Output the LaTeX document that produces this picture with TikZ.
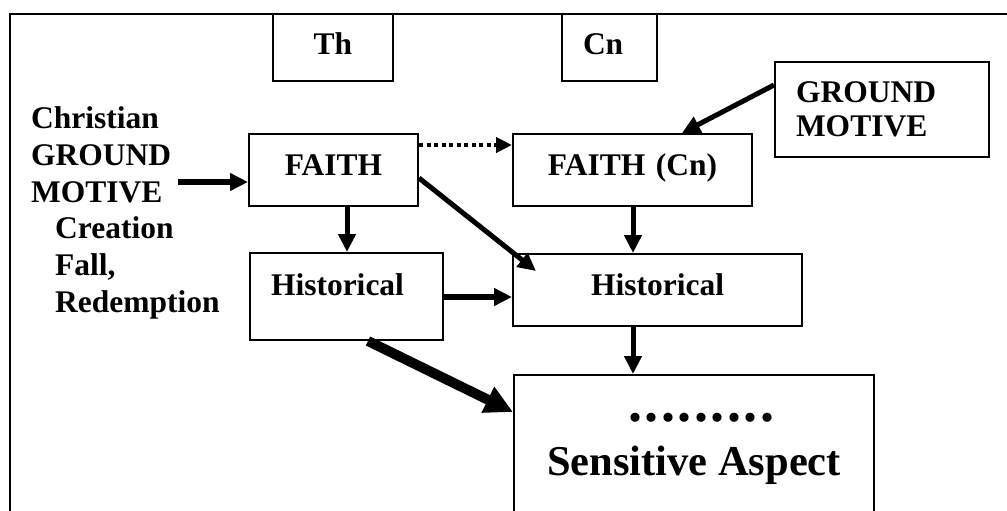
\documentclass[tikz,border=0pt]{standalone}
\usepackage{fontspec}
\setmainfont{Liberation Serif}
\usetikzlibrary{arrows.meta}
\tikzset{
  box/.style={draw, line width=2pt, inner sep=0pt, font=\bfseries\fontsize{31.5}{36}\selectfont},
  arr/.style={line width=5pt, -{Triangle[length=18pt,width=17pt]}},
  thickarr/.style={line width=10pt, -{Triangle[length=28pt,width=27pt]}},
  dotarr/.style={line width=4pt, dash pattern=on 4pt off 3.5pt, -{Triangle[length=16pt,width=15pt]}},
  txt/.style={font=\bfseries\fontsize{31.5}{36.8}\selectfont, inner sep=0pt},
}
\begin{document}
\begin{tikzpicture}[x=1pt,y=-1pt]
\useasboundingbox (0,0) rectangle (1007,511);
\clip (0,0) rectangle (1007,511);
% outer frame (cut off at right and bottom)
\draw[line width=2pt] (10,530) -- (10,14) -- (1030,14);

% boxes (anchor=base at baseline; text height/depth give top/bottom)
\node[box, anchor=base, text width=120pt, align=center, text height=41pt, text depth=26pt] (th) at (333,55) {Th};
\node[box, anchor=base west, inner xsep=21pt, text width=53pt, align=left, text height=41pt, text depth=26pt] (cn) at (561,55) {Cn};
\node[box, anchor=base, text width=169pt, align=center, text height=41pt, text depth=31pt] (faith) at (333.5,175) {FAITH};
\node[box, anchor=base, text width=239pt, align=center, text height=41pt, text depth=31pt] (faithcn) at (632.5,175) {FAITH (Cn)};
\node[box, inner xsep=21pt, text width=172pt, align=left, minimum height=95pt] (ground) at (882,109.5) {GROUND\\[-2pt]MOTIVE};
\node[box, anchor=base west, inner xsep=21pt, text width=151pt, align=left, text height=42pt, text depth=45pt] (hist1) at (249,295) {Historical};
\node[box, anchor=base, text width=289pt, align=center, text height=41pt, text depth=31pt] (hist2) at (657.5,295) {Historical};
\node[box, anchor=north west, minimum width=360pt, minimum height=170pt] (sens) at (513,374) {};
\node[inner sep=0pt, anchor=base, font=\bfseries\fontsize{56}{56}\selectfont] (dots) at (701.5,421) {.\kern2.5pt.\kern2.5pt.\kern2.5pt.\kern2.5pt.\kern2.5pt.\kern2.5pt.\kern2.5pt.\kern2.5pt.};
\node[inner sep=0pt, anchor=base, font=\bfseries\fontsize{42.5}{42.5}\selectfont] (senslabel) at (694,475) {Sensitive Aspect};

% left text block
\node[txt, anchor=north west, align=left] (cgm) at (31,106.5) {Christian\\GROUND\\MOTIVE\\\hspace*{24pt}Creation\\\hspace*{24pt}Fall,\\\hspace*{24pt}Redemption};
\coordinate (cgmout) at (178,182);

% connectors
\draw[arr, line width=6.5pt] (cgmout) -- (cgmout -| faith.west);
\draw[dotarr] (faith.east |- 0,145) -- (faithcn.west |- 0,145);
\draw[arr] (ground.west |- 0,85) -- (682,0 |- faithcn.north);
\draw[arr] (347,0 |- faith.south) -- (347,0 |- hist1.north);
\draw[arr] (faith.east |- 0,178) -- ([shift={(24,18)}]hist2.north west);
\draw[arr] (633,0 |- faithcn.south) -- (633,0 |- hist2.north);
\draw[arr, line width=6.5pt] (hist1.east |- 0,297) -- (hist2.west |- 0,297);
\draw[arr] (633,0 |- hist2.south) -- (633,0 |- sens.north);
\draw[thickarr] (368,0 |- hist1.south) -- (sens.west |- 0,412);
\end{tikzpicture}
\end{document}
